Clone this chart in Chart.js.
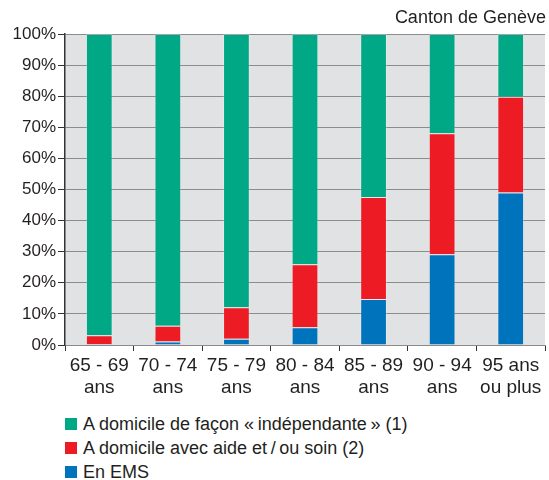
<!DOCTYPE html>
<html>
<head>
<meta charset="utf-8">
<script src="https://cdn.jsdelivr.net/npm/chart.js@4.4.0/dist/chart.umd.min.js"></script>
<style>
  html, body { margin:0; padding:0; background:#fff; }
  #wrap { position:relative; width:549px; height:480px; font-family:"Liberation Sans", Arial, sans-serif; color:#231f20; }
  #cv { position:absolute; left:0; top:0; }
  #title { position:absolute; right:3px; top:7px; font-size:18px; }
  #legend { position:absolute; left:65px; top:412px; font-size:18px; }
  .item { height:24px; line-height:24px; display:flex; align-items:center; }
  .sw { width:12px; height:12px; margin-right:6px; display:inline-block; }
</style>
</head>
<body>
<div id="wrap">
  <canvas id="cv" width="549" height="400"></canvas>
  <div id="title">Canton de Genève</div>
  <div id="legend"></div>
</div>
<script>
const categories = [['65 - 69','ans'],['70 - 74','ans'],['75 - 79','ans'],['80 - 84','ans'],['85 - 89','ans'],['90 - 94','ans'],['95 ans','ou plus']];
const emsValues = [0.3, 1.1, 2.0, 5.7, 14.8, 29.2, 49.0];
const aideValues = [2.8, 5.1, 10.1, 20.3, 32.8, 38.9, 30.8];
const indepValues = [96.9, 93.8, 87.9, 74.0, 52.4, 31.9, 20.2];
const seriesLabels = ['En EMS', 'A domicile avec aide et\u2009/\u2009ou soin (2)', 'A domicile de façon «\u2009indépendante\u2009» (1)'];
const seriesColors = ['#0073bd', '#ed1c24', '#00a886'];
const yTicks = [0,10,20,30,40,50,60,70,80,90,100];

const bgPlugin = {
  id:'bg',
  beforeDraw(chart){
    const {ctx, chartArea:a} = chart;
    ctx.save();
    ctx.fillStyle = '#e1e2e4';
    ctx.fillRect(a.left, a.top, a.right-a.left, a.bottom-a.top);
    ctx.restore();
  }
};

const font = {family:'"Liberation Sans", Arial, sans-serif'};
new Chart(document.getElementById('cv'), {
  type:'bar',
  data:{
    labels: categories,
    datasets:[emsValues, aideValues, indepValues].map((d,i)=>({
      label: seriesLabels[i], data:d, backgroundColor: seriesColors[i],
      borderColor:'rgba(255,255,255,0.22)', borderWidth:1, borderSkipped:'bottom',
      categoryPercentage:1, barPercentage:0.39
    }))
  },
  options:{
    responsive:false, animation:false,
    layout:{padding:{top:34, right:4, left:0, bottom:0}},
    plugins:{legend:{display:false}, tooltip:{enabled:false}},
    scales:{
      x:{
        stacked:true,
        grid:{drawOnChartArea:false, drawTicks:true, tickLength:6, tickColor:'#333', offset:true},
        border:{color:'#8a8a8a', width:1},
        ticks:{color:'#231f20', font:{...font, size:19}, padding:3, maxRotation:0, autoSkip:false},
        afterFit(s){ s.height = 55; }
      },
      y:{
        stacked:true, min:0, max:100,
        afterBuildTicks(s){ s.ticks = yTicks.map(v=>({value:v})); },
        grid:{color:'#8c8c8c', lineWidth:1, tickLength:7, tickColor:'#333'},
        border:{color:'#333', width:1.5},
        ticks:{color:'#231f20', font:{...font, size:17}, padding:2, callback:v=>v+'%'},
        afterFit(s){ s.width = 65; }
      }
    }
  },
  plugins:[bgPlugin]
});

const leg = document.getElementById('legend');
[2,1,0].forEach(i=>{
  const d = document.createElement('div'); d.className='item';
  d.innerHTML = '<span class="sw" style="background:'+seriesColors[i]+'"></span><span></span>';
  d.lastChild.textContent = seriesLabels[i];
  leg.appendChild(d);
});
</script>
</body>
</html>
